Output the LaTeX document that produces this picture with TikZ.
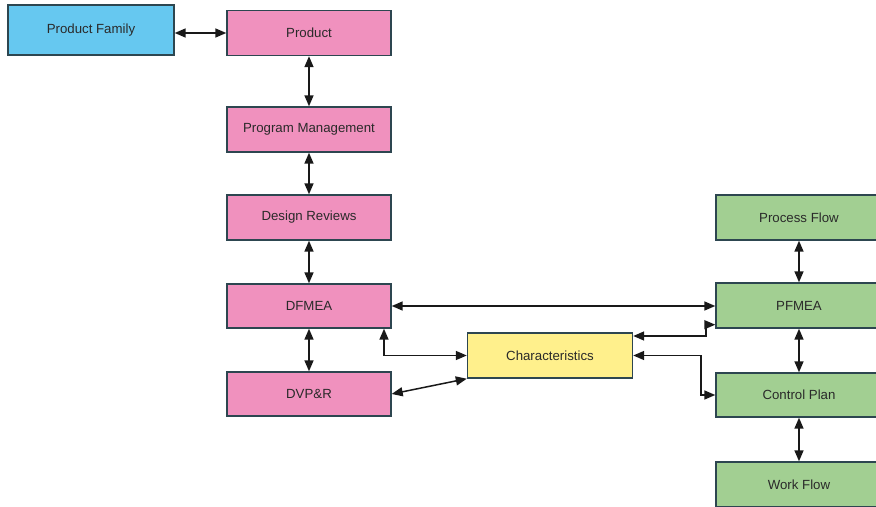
\documentclass[tikz,border=0pt]{standalone}
\usepackage{fontspec}
\setmainfont{Liberation Sans}
\usetikzlibrary{arrows.meta,calc}
\definecolor{bfill}{HTML}{66C8F0}
\definecolor{pfill}{HTML}{F091BE}
\definecolor{gfill}{HTML}{A2CF92}
\definecolor{yfill}{HTML}{FFF08C}
\definecolor{edge}{HTML}{2D4650}
\definecolor{txt}{HTML}{2A2A2A}
\tikzset{
  box/.style={draw=edge, line width=1.4bp, rectangle, minimum width=164bp, minimum height=45bp,
    inner sep=0pt, text=txt, font=\fontsize{13.3}{15}\selectfont},
  bluebox/.style={box, fill=bfill, minimum width=166bp, minimum height=50bp},
  pinkbox/.style={box, fill=pfill},
  greenbox/.style={box, fill=gfill, minimum width=166bp},
  yellowbox/.style={box, fill=yfill, minimum width=165bp},
  link/.style={line width=1.5bp, draw=black!90, {Triangle[length=11bp,width=9bp]}-{Triangle[length=11bp,width=9bp]}}
}
\begin{document}
\begin{tikzpicture}[x=1bp,y=-1bp]
\useasboundingbox[fill=white] (0,0) rectangle (876,507);
\node[bluebox] (fam) at (91,30) {Product Family};
\node[pinkbox] (prod) at (309,33) {Product};
\node[pinkbox] (pm) at (309,129.5) {Program Management};
\node[pinkbox] (dr) at (309,217.5) {Design Reviews};
\node[pinkbox, minimum height=44bp] (dfmea) at (309,306) {DFMEA};
\node[pinkbox, minimum height=44bp] (dvp) at (309,394) {DVP\&R};
\node[yellowbox] (char) at (550,355.5) {Characteristics};
\node[greenbox] (pf) at (799,217.5) {Process Flow};
\node[greenbox] (pfmea) at (799,305.5) {PFMEA};
\node[greenbox, minimum height=44bp] (cp) at (799,395) {Control Plan};
\node[greenbox] (wf) at (799,484.5) {Work Flow};
\coordinate (k1) at (706,336);
\coordinate (k2) at (701,356);
\coordinate (k3) at (384,0);
\draw[link] (fam.east |- prod.west) -- (prod.west);
\draw[link] (prod.south) -- (pm.north);
\draw[link] (pm.south) -- (dr.north);
\draw[link] (dr.south) -- (dfmea.north);
\draw[link] (dfmea.south) -- (dvp.north);
\draw[link] (dfmea.east) -- (dfmea.east -| pfmea.west);
\draw[link] (dfmea.south -| k3) |- (char.west);
\draw[link] (dvp.east) -- (char.south west);
\draw[link] (char.east |- k1) -- (k1) |- ([yshift=4bp]pfmea.south west);
\draw[link] (char.east) -- (char.east -| k2) |- (cp.west);
\draw[link] (pf.south) -- (pfmea.north);
\draw[link] (pfmea.south) -- (cp.north);
\draw[link] (cp.south) -- (wf.north);
\end{tikzpicture}
\end{document}
